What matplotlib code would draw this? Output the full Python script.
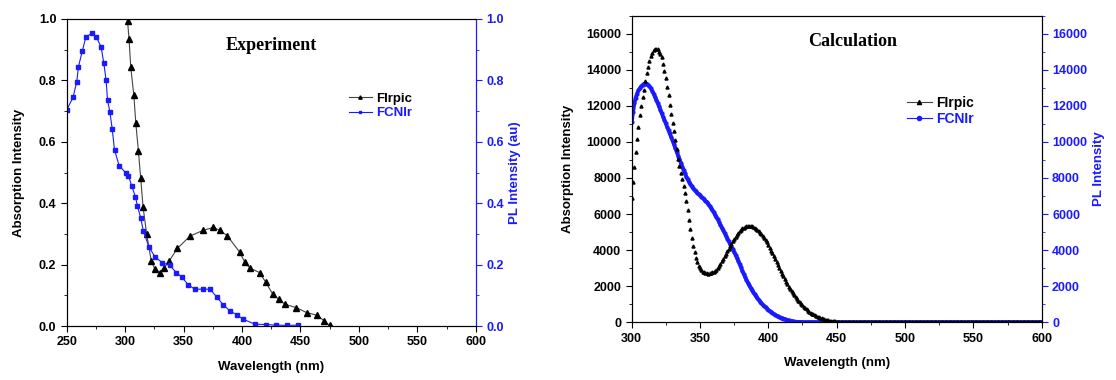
import matplotlib
matplotlib.use("Agg")
import matplotlib.pyplot as plt
from matplotlib.ticker import MultipleLocator, FormatStrFormatter

plt.rcParams['font.family'] = ['Liberation Sans', 'DejaVu Sans']
plt.rcParams['font.weight'] = 'bold'

BLUE = '#1a1aff'

# experiment: FIrpic absorption (left axis) and FCNIr PL (right axis)
exp_firpic_nm = [302.0, 303.3, 304.8, 307.4, 309.1, 311.3, 313.3, 315.3, 318.4, 322.4,
                 325.5, 329.5, 333.2, 337.5, 344.7, 355.5, 366.9, 375.5, 380.9, 387.4,
                 397.9, 402.5, 406.7, 415.0, 420.1, 426.4, 431.5, 436.7, 446.4, 455.2,
                 464.3, 470.5, 475.0]
exp_firpic = [0.995, 0.935, 0.843, 0.752, 0.661, 0.571, 0.481, 0.388, 0.299, 0.211,
              0.185, 0.174, 0.189, 0.211, 0.253, 0.293, 0.312, 0.321, 0.312, 0.294,
              0.241, 0.207, 0.189, 0.174, 0.144, 0.103, 0.087, 0.071, 0.060, 0.044,
              0.035, 0.016, 0.002]

exp_fcnir_nm = [250.0, 255.4, 258.6, 260.0, 263.4, 266.3, 271.4, 275.4, 279.4, 281.7,
                283.7, 284.9, 286.9, 288.9, 290.9, 294.9, 300.5, 302.8, 305.6, 308.8,
                310.5, 313.3, 315.6, 320.4, 325.6, 331.9, 338.1, 343.8, 348.4, 353.8,
                359.5, 366.9, 372.6, 378.3, 383.7, 389.7, 395.4, 401.1, 411.0, 420.2,
                428.7, 438.7, 447.8]
exp_fcnir = [0.704, 0.745, 0.796, 0.844, 0.897, 0.940, 0.954, 0.941, 0.909, 0.857,
             0.800, 0.736, 0.698, 0.642, 0.573, 0.522, 0.499, 0.490, 0.456, 0.421,
             0.391, 0.352, 0.309, 0.257, 0.225, 0.206, 0.198, 0.174, 0.160, 0.135,
             0.120, 0.120, 0.120, 0.095, 0.070, 0.049, 0.037, 0.022, 0.006, 0.005,
             0.003, 0.002, 0.003]

# calculation, 1 nm steps from 300 to 600
calc_nm = list(range(300, 601))
calc_firpic = [
    6900, 7760, 8630, 9450, 10170, 10850, 11510, 12010, 12460, 12900,
    13350, 13790, 14150, 14490, 14750, 14940, 15070, 15150, 15170, 15120,
    15000, 14850, 14680, 14320, 13950, 13520, 13050, 12590, 12070, 11520,
    11060, 10590, 10130, 9590, 9040, 8640, 8280, 7950, 7580, 7150,
    6730, 6230, 5680, 5150, 4670, 4230, 3880, 3560, 3320, 3130,
    2990, 2880, 2810, 2760, 2730, 2710, 2700, 2710, 2740, 2790,
    2800, 2850, 2920, 3010, 3120, 3240, 3370, 3510, 3650, 3790,
    3930, 4070, 4210, 4350, 4490, 4620, 4740, 4860, 4960, 5050,
    5130, 5200, 5250, 5290, 5320, 5340, 5340, 5330, 5310, 5270,
    5220, 5160, 5100, 5040, 4970, 4890, 4780, 4670, 4550, 4440,
    4280, 4130, 3970, 3820, 3680, 3520, 3350, 3180, 3010, 2850,
    2690, 2540, 2390, 2240, 2110, 1980, 1850, 1730, 1610, 1500,
    1390, 1290, 1190, 1100, 1010, 930, 850, 780, 710, 650,
    590, 530, 480, 430, 380, 340, 300, 270, 240, 210,
    185, 160, 140, 120, 105, 90, 78, 66, 56, 47,
    39, 32, 26, 20, 15, 11, 8, 5, 3, 1,
] + [0] * 141
calc_fcnir = [
    11100, 11650, 12150, 12450, 12680, 12850, 12970, 13070, 13150, 13210,
    13230, 13210, 13160, 13080, 12970, 12830, 12680, 12510, 12340, 12160,
    11970, 11780, 11580, 11390, 11210, 11030, 10840, 10650, 10465, 10260,
    10060, 9860, 9650, 9440, 9240, 9030, 8830, 8630, 8440, 8250,
    8070, 7920, 7780, 7650, 7530, 7420, 7330, 7250, 7170, 7100,
    7030, 6960, 6890, 6810, 6730, 6660, 6560, 6450, 6340, 6220,
    6100, 5970, 5840, 5700, 5550, 5400, 5250, 5090, 4940, 4790,
    4640, 4490, 4340, 4190, 4040, 3890, 3740, 3580, 3410, 3230,
    3040, 2850, 2680, 2510, 2350, 2200, 2050, 1910, 1780, 1660,
    1540, 1430, 1330, 1230, 1140, 1050, 970, 890, 820, 750,
    680, 620, 560, 510, 460, 410, 370, 330, 290, 260,
    230, 200, 170, 145, 120, 100, 80, 62, 48, 36,
    27, 20, 14, 10, 7, 5, 3, 2, 1,
] + [0] * 172

fig = plt.figure(figsize=(11.16, 3.8), dpi=100)


def style_axes(ax, ax2):
    for a in (ax, ax2):
        a.tick_params(which='both', direction='out', labelsize=9)
        a.tick_params(which='major', length=4)
        a.tick_params(which='minor', length=2)
    ax2.spines['right'].set_color(BLUE)
    ax2.tick_params(axis='y', which='both', colors=BLUE)
    for lab in ax.get_xticklabels() + ax.get_yticklabels() + ax2.get_yticklabels():
        lab.set_fontweight('bold')


# ---- left: experiment ----
ax1 = fig.add_axes([0.0598, 0.142, 0.3665, 0.808])
ax1b = ax1.twinx()
l1, = ax1.plot(exp_firpic_nm, exp_firpic, color='#444444', lw=0.8, marker='^',
               ms=4, mfc='black', mec='black', label='FIrpic')
l2, = ax1b.plot(exp_fcnir_nm, exp_fcnir, color=BLUE, lw=0.8, marker='s',
                ms=3.5, mfc=BLUE, mec=BLUE, label='FCNIr')
ax1.set_xlim(250, 600)
ax1.set_ylim(0, 1.0)
ax1b.set_ylim(0, 1.0)
ax1.xaxis.set_major_locator(MultipleLocator(50))
ax1.xaxis.set_minor_locator(MultipleLocator(25))
for a in (ax1, ax1b):
    a.yaxis.set_major_locator(MultipleLocator(0.2))
    a.yaxis.set_minor_locator(MultipleLocator(0.1))
    a.yaxis.set_major_formatter(FormatStrFormatter('%.1f'))
ax1.set_xlabel('Wavelength (nm)', fontsize=9.5, fontweight='bold', labelpad=9)
ax1.set_ylabel('Absorption Intensity', fontsize=9.5, fontweight='bold', labelpad=10)
ax1b.set_ylabel('PL Intensity (au)', fontsize=9.5, fontweight='bold', color=BLUE)
style_axes(ax1, ax1b)
ax1.text(0.5, 0.915, 'Experiment', transform=ax1.transAxes, ha='center', va='center',
         fontsize=13, fontweight='bold', family='Liberation Serif')
ax1b.legend(handles=[l1, l2], loc='upper left', bbox_to_anchor=(0.66, 0.80),
            frameon=False, fontsize=9.5, labelcolor=['black', BLUE], handlelength=1.8,
            markerscale=0.6, handletextpad=0.3, labelspacing=0.2)

# ---- right: calculation ----
ax2 = fig.add_axes([0.566, 0.152, 0.3674, 0.807])
ax2b = ax2.twinx()
ax2b.plot(calc_nm, calc_fcnir, color=BLUE, lw=2.8, marker='o', ms=2,
          mfc=BLUE, mec=BLUE, label='FCNIr')
ax2.plot(calc_nm, calc_firpic, ls='none', marker='^', ms=2.2,
         mfc='black', mec='black', label='FIrpic')
ax2.set_zorder(ax2b.get_zorder() + 1)
ax2.patch.set_visible(False)
ax2.set_xlim(300, 600)
ax2.set_ylim(0, 17000)
ax2b.set_ylim(0, 17000)
ax2.xaxis.set_major_locator(MultipleLocator(50))
ax2.xaxis.set_minor_locator(MultipleLocator(25))
for a in (ax2, ax2b):
    a.yaxis.set_major_locator(MultipleLocator(2000))
    a.yaxis.set_minor_locator(MultipleLocator(1000))
ax2.set_xlabel('Wavelength (nm)', fontsize=9.5, fontweight='bold', labelpad=9)
ax2.set_ylabel('Absorption Intensity', fontsize=9.5, fontweight='bold', labelpad=9)
ax2b.set_ylabel('PL Intensity', fontsize=9.5, fontweight='bold', color=BLUE)
style_axes(ax2, ax2b)
ax2.text(0.54, 0.914, 'Calculation', transform=ax2.transAxes, ha='center', va='center',
         fontsize=13, fontweight='bold', family='Liberation Serif')
leg_h = [plt.Line2D([], [], color='#444444', lw=0.8, marker='^', ms=3, mfc='black', mec='black'),
         plt.Line2D([], [], color=BLUE, lw=0.8, marker='o', ms=3, mfc=BLUE, mec=BLUE)]
ax2.legend(leg_h, ['FIrpic', 'FCNIr'], loc='upper left', bbox_to_anchor=(0.64, 0.78),
           frameon=False, fontsize=10, labelcolor=['black', BLUE], handlelength=1.8,
           handletextpad=0.3, labelspacing=0.2)

fig.savefig('out.png', dpi=100)
